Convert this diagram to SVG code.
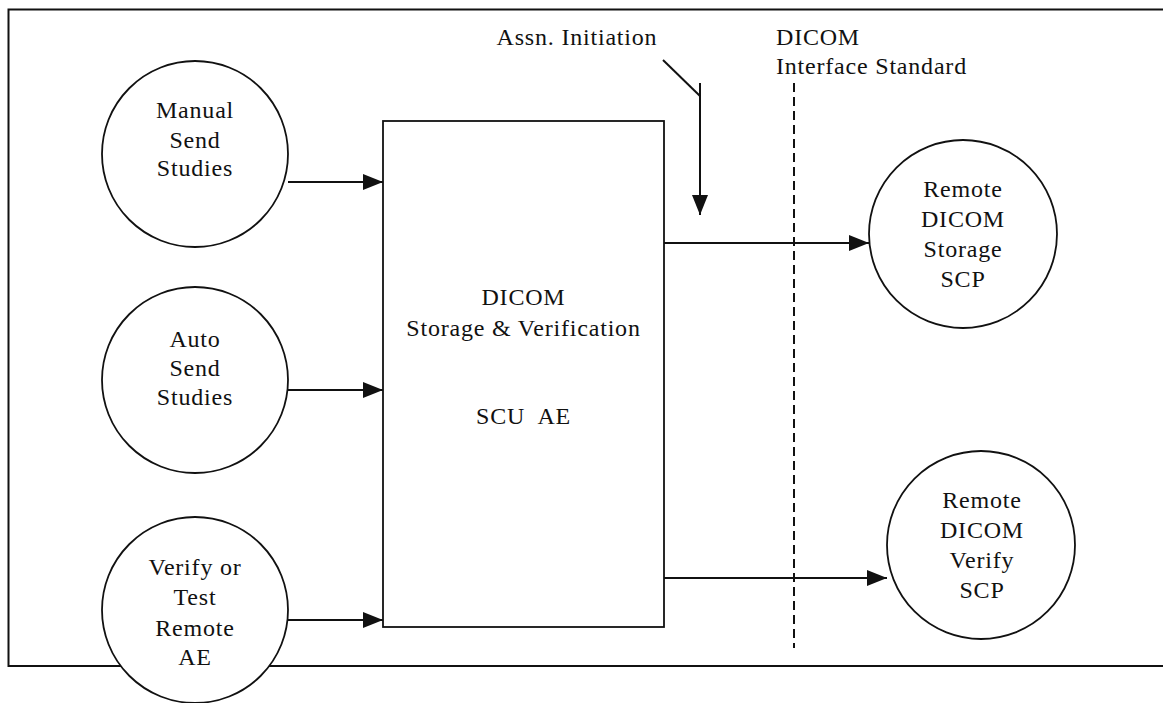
<svg xmlns="http://www.w3.org/2000/svg" width="1163" height="703" viewBox="0 0 1163 703">
<style>
  .ln { stroke:#111; stroke-width:2; fill:none; }
  .nd { stroke:#111; stroke-width:1.8; fill:#fff; }
  .tx { font-family:"Liberation Serif","Times New Roman",serif; font-size:24px; fill:#111; text-anchor:middle; letter-spacing:0.8px; }
  .tl { text-anchor:start; }
  .dash { stroke:#111; stroke-width:2; stroke-dasharray:9 5; fill:none; }
</style>
<defs>
  <marker id="ah" viewBox="0 0 20 16" refX="20" refY="8" markerWidth="20" markerHeight="16" markerUnits="userSpaceOnUse" orient="auto">
    <path d="M0,0 L20,8 L0,16 Z" fill="#111"/>
  </marker>
</defs>
<rect width="1163" height="703" fill="#fff"/>
<g id="frame">
  <path class="ln" d="M1163,9.5 H8.5 V666 H1163"/>
</g>
<g id="boundary">
  <line class="dash" x1="794" y1="83" x2="794" y2="648"/>
  <text class="tx tl" x="776" y="45">DICOM</text>
  <text class="tx tl" x="776" y="74">Interface Standard</text>
</g>
<g id="connectors">
  <line class="ln" x1="288" y1="182" x2="383" y2="182" marker-end="url(#ah)"/>
  <line class="ln" x1="288" y1="390" x2="383" y2="390" marker-end="url(#ah)"/>
  <line class="ln" x1="288" y1="620" x2="383" y2="620" marker-end="url(#ah)"/>
  <line class="ln" x1="664" y1="243" x2="869" y2="243" marker-end="url(#ah)"/>
  <line class="ln" x1="664" y1="578" x2="887" y2="578" marker-end="url(#ah)"/>
  <line class="ln" x1="700" y1="83" x2="700" y2="215" marker-end="url(#ah)"/>
  <line class="ln" x1="663" y1="60" x2="700" y2="96" stroke-width="1.5"/>
  <text class="tx" x="577" y="45">Assn. Initiation</text>
</g>
<g id="scu">
  <rect class="nd" x="383" y="121" width="281" height="506"/>
  <text class="tx" x="523.5" y="305">DICOM</text>
  <text class="tx" x="523.5" y="336">Storage &amp; Verification</text>
  <text class="tx" x="523.5" y="424" xml:space="preserve">SCU  AE</text>
</g>
<g id="manual">
  <circle class="nd" cx="195" cy="154" r="93"/>
  <text class="tx" x="195" y="118">Manual</text>
  <text class="tx" x="195" y="148">Send</text>
  <text class="tx" x="195" y="176">Studies</text>
</g>
<g id="auto">
  <circle class="nd" cx="195" cy="380" r="93"/>
  <text class="tx" x="195" y="347">Auto</text>
  <text class="tx" x="195" y="376">Send</text>
  <text class="tx" x="195" y="405">Studies</text>
</g>
<g id="verify">
  <circle class="nd" cx="195" cy="610" r="93"/>
  <text class="tx" x="195" y="575">Verify or</text>
  <text class="tx" x="195" y="605">Test</text>
  <text class="tx" x="195" y="636">Remote</text>
  <text class="tx" x="195" y="665">AE</text>
</g>
<g id="remote-storage">
  <circle class="nd" cx="963" cy="234" r="94"/>
  <text class="tx" x="963" y="197">Remote</text>
  <text class="tx" x="963" y="227">DICOM</text>
  <text class="tx" x="963" y="257">Storage</text>
  <text class="tx" x="963" y="287">SCP</text>
</g>
<g id="remote-verify">
  <circle class="nd" cx="981" cy="545" r="94"/>
  <text class="tx" x="982" y="508">Remote</text>
  <text class="tx" x="982" y="538">DICOM</text>
  <text class="tx" x="982" y="568">Verify</text>
  <text class="tx" x="982" y="598">SCP</text>
</g>
</svg>
